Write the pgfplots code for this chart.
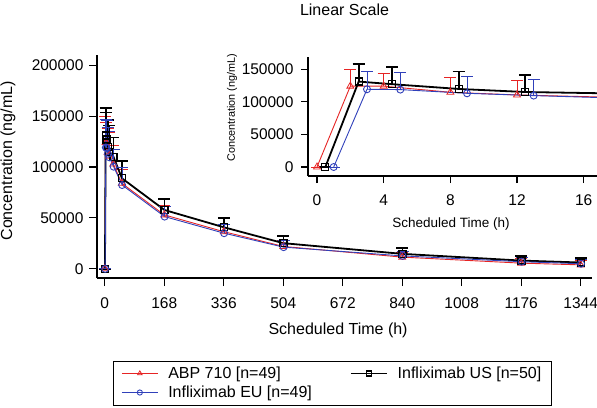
\documentclass[border=0pt]{standalone}
\usepackage{pgfplots}
\pgfplotsset{compat=1.18}
\usepackage{pgfplotstable}
\usepackage{fontspec}
\setmainfont{Liberation Sans}
\definecolor{cRed}{RGB}{230,36,36}
\definecolor{cBlue}{RGB}{48,64,186}

% x = scheduled time (h, slightly offset per group), y = mean, e = SD (upper)
\pgfplotstableread{
x y e
0 0 0
2 124000 26000
4 124000 20000
8 114600 23000
12 110500 23000
24 103000 18000
48 84000 14000
168 53000 9500
336 36500 7500
504 22000 6000
840 11500 4500
1176 5600 4400
1344 3900 4600
}\abp
\pgfplotstableread{
x y e
0.5 0 0
2.5 131000 27000
4.5 127000 26600
8.5 119700 26800
12.5 115000 25800
24.5 110000 19000
48.5 88900 17000
168.5 57800 10800
336.5 40800 8900
504.5 25200 7000
840.5 14700 5600
1176.5 8100 4900
1344.5 6200 4300
}\ius
\pgfplotstableread{
x y e
1 0 0
3 119200 27300
5 118700 26700
9 113000 25700
13 109500 25100
25 100300 17000
49 82300 17500
169 51300 9800
337 35000 8500
505 21300 6200
841 12700 4300
1177 7000 4000
1345 5000 4000
}\ieu

\pgfplotsset{
  abpstyle/.style={color=cRed, line width=0.9bp, mark=triangle, mark size=4bp,
    mark options={solid, line width=0.8bp},
    error bars/y dir=plus, error bars/y explicit,
    error bars/error bar style={line width=0.9bp},
    error bars/error mark options={rotate=90, mark size=6bp, line width=0.9bp}},
  iusstyle/.style={color=black, line width=1.8bp, mark=square, mark size=3.5bp,
    mark options={solid, line width=1.3bp},
    error bars/y dir=plus, error bars/y explicit,
    error bars/error bar style={line width=1.8bp},
    error bars/error mark options={rotate=90, mark size=6bp, line width=1.8bp}},
  ieustyle/.style={color=cBlue, line width=0.9bp, mark=o, mark size=3.5bp,
    mark options={solid, line width=0.9bp},
    error bars/y dir=plus, error bars/y explicit,
    error bars/error bar style={line width=0.9bp},
    error bars/error mark options={rotate=90, mark size=6bp, line width=0.9bp}},
  commonax/.style={
    scale only axis,
    axis x line*=bottom, axis y line*=left,
    axis line style={-, line width=1.1bp},
    tick align=outside,
    major tick length=8bp,
    tick style={line width=1.1bp, black},
    scaled y ticks=false, scaled x ticks=false,
    /pgf/number format/fixed,
    /pgf/number format/1000 sep={},
    /pgf/number format/assume math mode=true,
  },
}

\begin{document}
\begin{tikzpicture}[x=1bp,y=1bp]
\useasboundingbox (0,0) rectangle (597,407);

% main axis
\begin{axis}[
  commonax,
  at={(97bp,129bp)}, anchor=south west,
  width=495bp, height=223bp,
  xmin=-22, xmax=1376, ymin=-9000, ymax=210000,
  xtick={0,168,336,504,672,840,1008,1176,1344},
  ytick={0,50000,100000,150000,200000},
  ticklabel style={font=\fontsize{15.5bp}{18bp}\selectfont},
  xticklabel style={yshift=-8bp},
  yticklabel style={xshift=-2bp},
  title={Linear Scale},
  title style={at={(axis description cs:0.5,1.175)}, anchor=center, font=\fontsize{16bp}{19bp}\selectfont},
  xlabel={Scheduled Time (h)},
  xlabel style={at={(axis description cs:0.487,-0.235)}, anchor=center, font=\fontsize{16bp}{19bp}\selectfont},
  ylabel={Concentration (ng/mL)},
  ylabel style={at={(axis description cs:-0.18,0.525)}, anchor=center, font=\fontsize{16bp}{19bp}\selectfont},
  legend columns=2,
  legend cell align=left,
  legend image code/.code={\draw[#1, mark size=2.6bp, mark repeat=2, mark phase=2] plot coordinates {(0bp,0bp) (18bp,0bp) (36bp,0bp)};},
  legend style={at={(axis description cs:0.0323,-0.37)}, anchor=north west,
    draw=black, line width=0.8bp, font=\fontsize{16bp}{19bp}\selectfont,
    inner xsep=8bp, inner ysep=4bp, row sep=2bp,
    /tikz/every odd column/.append style={column sep=8bp},
    /tikz/every even column/.append style={column sep=36bp}},
]
\addplot[abpstyle] table[x=x, y=y, y error=e] {\abp};
\addlegendentry{ABP 710 [n=49]}
\addplot[iusstyle] table[x=x, y=y, y error=e] {\ius};
\addlegendentry{Infliximab US [n=50]}
\addplot[ieustyle] table[x=x, y=y, y error=e] {\ieu};
\addlegendentry{Infliximab EU [n=49]}
\end{axis}

% inset axis
\begin{axis}[
  commonax,
  at={(308bp,231bp)}, anchor=south west,
  width=289bp, height=119bp,
  xmin=-0.54, xmax=16.8, ymin=-13800, ymax=168700,
  restrict x to domain=-1:30,
  major tick length=7bp,
  xtick={0,4,8,12,16},
  ytick={0,50000,100000,150000},
  ticklabel style={font=\fontsize{15.5bp}{18bp}\selectfont},
  xticklabel style={yshift=-8bp},
  yticklabel style={xshift=-4bp},
  xlabel={Scheduled Time (h)},
  xlabel style={at={(axis description cs:0.495,-0.40)}, anchor=center, font=\fontsize{13.5bp}{16bp}\selectfont},
  ylabel={Concentration (ng/mL)},
  ylabel style={at={(axis description cs:-0.263,0.571)}, anchor=center, font=\fontsize{10.8bp}{13bp}\selectfont},
]
\addplot[abpstyle] table[x=x, y=y, y error=e] {\abp};
\addplot[iusstyle] table[x=x, y=y, y error=e] {\ius};
\addplot[ieustyle] table[x=x, y=y, y error=e] {\ieu};
\end{axis}
\end{tikzpicture}
\end{document}
